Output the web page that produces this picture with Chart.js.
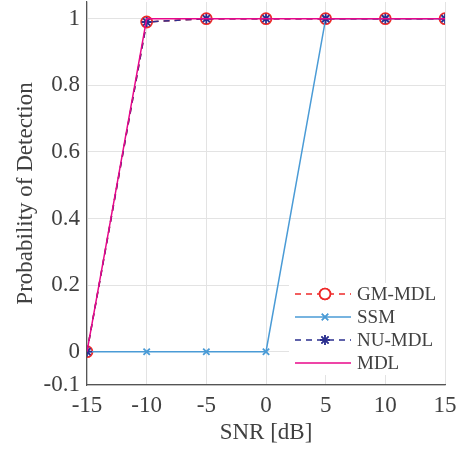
<!DOCTYPE html>
<html>
<head>
<meta charset="utf-8">
<script src="https://cdn.jsdelivr.net/npm/chart.js@4.4.0/dist/chart.umd.js"></script>
<style>
  html, body { margin: 0; padding: 0; background: #fff; }
  #wrap { position: relative; width: 458px; height: 451px; }
</style>
</head>
<body>
<div id="wrap"><canvas id="pd"></canvas></div>
<script>
// SNR values and detection probabilities
const snr = [-15, -10, -5, 0, 5, 10, 15];
const gmMdl = [0, 0.99, 1, 1, 1, 1, 1];
const ssm = [0, 0, 0, 0, 1, 1, 1];
const nuMdl = [0, 0.99, 1, 1, 1, 1, 1];
const mdl = [0, 1, 1, 1, 1, 1, 1];
const yTicks = [-0.1, 0, 0.2, 0.4, 0.6, 0.8, 1];

const FONT = '"Liberation Serif", "Times New Roman", serif';
const TXT = '#404040';

const series = [
    { label: 'GM-MDL', data: gmMdl, color: '#ee2a2a', dash: [6, 5], point: 'circle', radius: 5.5, order: 4 },
    { label: 'SSM', data: ssm, color: '#4a9bd6', dash: [], point: 'crossRot', radius: 4.5, order: 3 },
    { label: 'NU-MDL', data: nuMdl, color: '#2b2f8f', dash: [6, 5], point: 'star', radius: 5, order: 2 },
    { label: 'MDL', data: mdl, color: '#e8078a', dash: [], point: false, radius: 0, order: 1 }
];

const toXY = (arr) => arr.map((v, i) => ({ x: snr[i], y: v }));

// pull the plot area up to the top edge like the original figure
const plotTop = {
    id: 'plotTop',
    afterLayout(chart) {
        const top = 2;
        const y = chart.scales.y;
        y.top = top;
        y.height = y.bottom - top;
        y.configure();
        chart.chartArea.top = top;
        chart.chartArea.height = chart.chartArea.bottom - top;
    }
};

// legend in the lower right, line sample + marker like the original
const legendBox = {
    id: 'legendBox',
    afterDatasetsDraw(chart) {
        const ctx = chart.ctx;
        const area = chart.chartArea;
        const w = 156, h = 92;
        const x0 = area.right - w, y0 = 283;
        ctx.save();
        ctx.fillStyle = '#fff';
        ctx.fillRect(x0, y0, w, h);
        ctx.font = '19px ' + FONT;
        ctx.textBaseline = 'middle';
        series.forEach((s, i) => {
            const y = y0 + 11 + i * 23;
            ctx.strokeStyle = s.color;
            ctx.lineWidth = 1.5;
            ctx.setLineDash(s.dash);
            ctx.beginPath();
            ctx.moveTo(x0 + 6, y);
            ctx.lineTo(x0 + 62, y);
            ctx.stroke();
            ctx.setLineDash([]);
            if (s.point) {
                Chart.helpers.drawPoint(ctx, {
                    pointStyle: s.point, radius: s.radius, borderWidth: 1.5,
                    rotation: 0
                }, x0 + 36, y);
                ctx.stroke();
            }
            ctx.fillStyle = TXT;
            ctx.fillText(s.label, x0 + 68, y + 1);
        });
        ctx.restore();
    }
};

new Chart(document.getElementById('pd'), {
    type: 'line',
    data: {
        datasets: series.map(s => ({
            label: s.label,
            data: toXY(s.data),
            borderColor: s.color,
            backgroundColor: 'rgba(0,0,0,0)',
            borderWidth: 1.5,
            borderDash: s.dash,
            pointStyle: s.point,
            pointRadius: s.radius,
            pointBorderColor: s.color,
            pointBorderWidth: 1.8,
            pointBackgroundColor: 'rgba(0,0,0,0)',
            tension: 0,
            order: s.order
        }))
    },
    options: {
        responsive: true,
        maintainAspectRatio: false,
        animation: false,
        layout: { padding: { left: 0, top: 2, right: 13, bottom: 0 } },
        plugins: {
            legend: { display: false },
            tooltip: { enabled: false }
        },
        scales: {
            x: {
                type: 'linear',
                min: -15,
                max: 15,
                ticks: {
                    stepSize: 5,
                    color: TXT,
                    padding: 7,
                    font: { family: FONT, size: 23 }
                },
                grid: { color: '#e3e3e3', drawTicks: false },
                border: { color: '#555', width: 1.2 },
                title: {
                    display: true,
                    text: 'SNR [dB]',
                    color: TXT,
                    font: { family: FONT, size: 23 },
                    padding: { top: 4 }
                },
                afterFit(scale) {
                    scale.height = 66;
                    scale.paddingLeft = 0;
                    scale.paddingRight = 0;
                }
            },
            y: {
                min: -0.1,
                max: 1.05,
                afterBuildTicks(scale) {
                    scale.ticks = yTicks.map(v => ({ value: v }));
                },
                ticks: {
                    color: TXT,
                    padding: 7,
                    font: { family: FONT, size: 23 },
                    callback: (v) => String(Math.round(v * 10) / 10)
                },
                grid: { color: '#e3e3e3', drawTicks: false },
                border: { color: '#555', width: 1.2 },
                title: {
                    display: true,
                    text: 'Probability of Detection',
                    color: TXT,
                    font: { family: FONT, size: 23 },
                    padding: { top: 12, bottom: 0 }
                },
                afterFit(scale) {
                    scale.width = 87;
                    scale.paddingTop = 0;
                    scale.paddingBottom = 0;
                }
            }
        }
    },
    plugins: [plotTop, legendBox]
});
</script>
</body>
</html>
